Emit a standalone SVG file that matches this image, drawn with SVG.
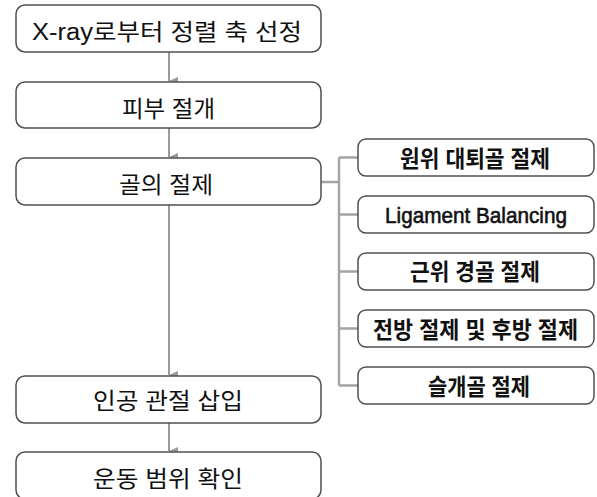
<svg xmlns="http://www.w3.org/2000/svg" width="597" height="497" viewBox="0 0 597 497">
<defs>
<marker id="ah" markerWidth="8" markerHeight="9" refX="4" refY="9" orient="auto-start-reverse" markerUnits="userSpaceOnUse" viewBox="0 0 8 9">
<path d="M0,0 L8,0 L4,9 Z" fill="#9a9a9a"/>
</marker>
<style>
.box{fill:#fff;stroke:#505050;stroke-width:1.5}
.lt{font-family:"Liberation Sans","Noto Sans CJK KR",sans-serif;font-size:23px;fill:#111;text-anchor:middle;dominant-baseline:central}
.rt{font-family:"Liberation Sans","Noto Sans CJK KR",sans-serif;font-size:23px;font-weight:bold;fill:#111;text-anchor:middle;dominant-baseline:central}
.rt.lat{font-weight:normal;font-size:22px;stroke:#111;stroke-width:0.6}
.arr{stroke:#9a9a9a;stroke-width:2;fill:none}
.br{stroke:#a4a4a4;stroke-width:2.5;fill:none}
</style>
</defs>
<rect width="597" height="497" fill="#fff"/>
<g id="connectors">
<line class="arr" x1="169" y1="52" x2="169" y2="81" marker-end="url(#ah)"/>
<line class="arr" x1="169" y1="128" x2="169" y2="157" marker-end="url(#ah)"/>
<line class="arr" x1="169" y1="205" x2="169" y2="375" marker-end="url(#ah)"/>
<line class="arr" x1="169" y1="423" x2="169" y2="451" marker-end="url(#ah)"/>
<path class="br" d="M321,182 H339 M339,157.5 V385.5 M339,157.5 H358 M339,214.5 H358 M339,271.5 H358 M339,328.5 H358 M339,385.5 H358"/>
</g>
<g id="n1"><rect class="box" x="16" y="5" width="305" height="47" rx="9"/><text class="lt" x="167" y="32" textLength="270" lengthAdjust="spacingAndGlyphs">X-ray로부터 정렬 축 선정</text></g>
<g id="n2"><rect class="box" x="16" y="82" width="305" height="46" rx="9"/><text class="lt" x="168.5" y="109" textLength="93" lengthAdjust="spacingAndGlyphs">피부 절개</text></g>
<g id="n3"><rect class="box" x="16" y="158" width="305" height="47" rx="9"/><text class="lt" x="166" y="185" textLength="94" lengthAdjust="spacingAndGlyphs">골의 절제</text></g>
<g id="n4"><rect class="box" x="16" y="376" width="305" height="47" rx="9"/><text class="lt" x="168" y="401" textLength="150" lengthAdjust="spacingAndGlyphs">인공 관절 삽입</text></g>
<g id="n5"><rect class="box" x="16" y="452" width="305" height="47" rx="9"/><text class="lt" x="168" y="479" textLength="150" lengthAdjust="spacingAndGlyphs">운동 범위 확인</text></g>
<g id="r1"><rect class="box" x="358" y="139" width="236" height="37" rx="8"/><text class="rt" x="475" y="158.5" textLength="150" lengthAdjust="spacingAndGlyphs">원위 대퇴골 절제</text></g>
<g id="r2"><rect class="box" x="358" y="196" width="236" height="37" rx="8"/><text class="rt lat" x="476" y="215.5" textLength="182" lengthAdjust="spacingAndGlyphs">Ligament Balancing</text></g>
<g id="r3"><rect class="box" x="358" y="253" width="236" height="37" rx="8"/><text class="rt" x="475" y="272" textLength="130" lengthAdjust="spacingAndGlyphs">근위 경골 절제</text></g>
<g id="r4"><rect class="box" x="358" y="310" width="236" height="37" rx="8"/><text class="rt" x="475.5" y="329.5" textLength="205" lengthAdjust="spacingAndGlyphs">전방 절제 및 후방 절제</text></g>
<g id="r5"><rect class="box" x="358" y="367" width="236" height="37" rx="8"/><text class="rt" x="479" y="386.5" textLength="102" lengthAdjust="spacingAndGlyphs">슬개골 절제</text></g>
</svg>
